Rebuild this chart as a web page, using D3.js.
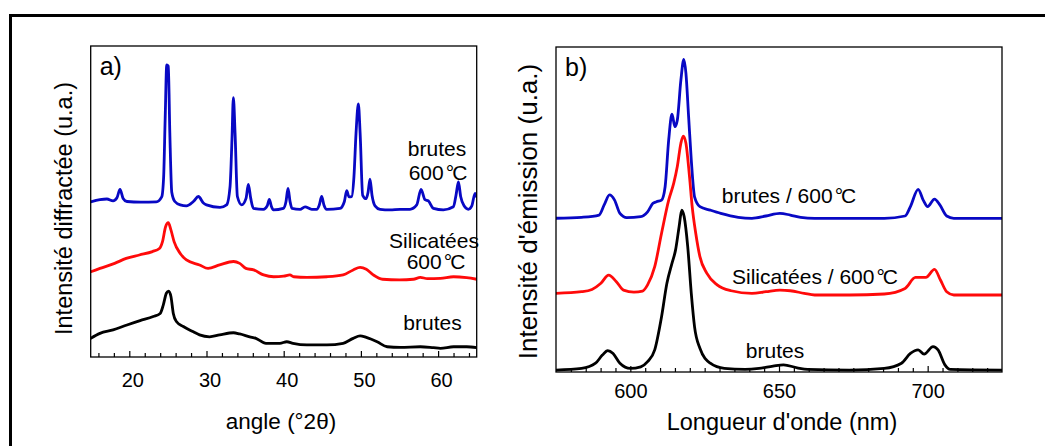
<!DOCTYPE html>
<html>
<head>
<meta charset="utf-8">
<script src="https://cdn.jsdelivr.net/npm/d3@7"></script>
<style>
  html, body { margin: 0; padding: 0; background: #fff; }
  svg { display: block; }
  text { font-family: "Liberation Sans", Arial, Helvetica, sans-serif; fill: #000; }
</style>
</head>
<body>
<svg id="chart" width="1045" height="446"></svg>
<script>
// ---------- Panel a: XRD (angle °2θ vs intensity, arbitrary units) ----------
const xrdTicksMajor = [20, 30, 40, 50, 60];
const xrdTicksMinor = [16, 18, 22, 24, 26, 28, 32, 34, 36, 38, 42, 44, 46, 48, 52, 54, 56, 58, 62, 64];
const xrdBrutes600 = [[15.0,49.9],[16.2,50.6],[17.1,50.8],[17.9,50.2],[18.4,51.2],[18.8,53.9],[19.2,51.0],[19.7,50.0],[21.5,49.8],[23.5,49.9],[24.2,51.5],[24.45,58],[24.65,77],[24.85,93.9],[25.05,93.5],[25.25,72],[25.5,53],[25.9,50.0],[26.6,48.9],[27.4,48.6],[28.3,50.0],[28.95,51.6],[29.6,49.5],[30.0,48.9],[31.75,48.1],[32.6,48.9],[33.05,54.8],[33.3,70],[33.48,83.4],[33.7,72],[34.0,51.6],[34.56,48.9],[35.12,51],[35.42,55.5],[35.73,51],[36.07,47.8],[37.37,47.5],[37.88,48.7],[38.14,50.7],[38.4,48.5],[38.66,47.3],[39.96,47.8],[40.3,50],[40.56,54.2],[40.82,50],[41.08,47.8],[42.12,47.5],[42.76,48.3],[43.63,47.5],[44.27,47.5],[44.6,48.8],[44.92,51.6],[45.22,48.8],[45.57,47.5],[47.3,47.8],[47.86,50],[48.16,53.5],[48.46,51.5],[48.8,51.6],[49.1,58],[49.37,72],[49.67,81.4],[49.9,72],[50.23,52],[50.67,50.9],[50.93,53],[51.18,57.2],[51.44,52],[51.83,48.6],[52.48,47.5],[53.77,47.3],[55.07,47.5],[56.36,47.5],[57.23,48.9],[57.79,53.9],[58.3,50.6],[58.74,50.2],[59.39,47.8],[60.68,47.3],[61.98,48.3],[62.32,52],[62.63,56.3],[62.93,51.5],[63.36,48.6],[63.92,47.5],[64.35,48.5],[64.79,52.6],[65.0,51.5]];
const xrdSilic600 = [[15.0,27.4],[16.2,28.5],[18.1,30.1],[19.6,31.7],[21.3,32.8],[23.0,33.9],[23.9,34.9],[24.3,37.1],[24.7,41.9],[25.05,43.2],[25.4,40.8],[25.8,37.1],[26.6,33.3],[27.4,31.2],[29.1,29.6],[30.2,28.5],[31.7,29.6],[33.5,30.7],[34.3,30.1],[35.1,28.5],[36.1,28.0],[37.4,26.4],[38.7,25.8],[40.0,26.0],[40.8,26.4],[41.3,25.8],[43.0,25.6],[45.6,25.8],[47.7,26.4],[49.0,28.0],[49.9,28.8],[50.7,28.2],[51.6,26.4],[52.8,25.0],[55.0,24.8],[56.8,25.0],[57.7,25.6],[58.6,25.2],[60.3,25.3],[62.0,25.8],[63.7,25.5],[65.0,25.0]];
const xrdBrutes = [[15.0,6.0],[16.2,7.6],[17.9,8.7],[19.7,10.3],[21.4,11.7],[23.1,13.0],[24.0,14.0],[24.4,16.7],[24.8,20.5],[25.1,21.2],[25.4,19.4],[25.7,14.0],[26.1,11.4],[27.0,9.8],[28.3,8.1],[29.1,7.1],[30.4,6.5],[31.7,7.1],[33.5,7.8],[34.3,7.4],[35.6,6.5],[36.4,6.0],[37.7,4.4],[39.5,4.4],[40.4,4.9],[41.2,4.4],[43.0,3.9],[45.6,3.9],[47.7,4.4],[49.0,6.0],[49.9,6.8],[50.7,6.3],[52.1,4.9],[53.4,3.3],[55.1,3.1],[57.7,3.3],[59.4,3.0],[60.3,2.8],[62.0,3.3],[63.7,3.3],[65.0,3.0]];

// ---------- Panel b: emission (wavelength nm vs intensity, arbitrary units) ----------
const emTicksMajor = [600, 650, 700];
const emTicksMinor = [580, 585, 590, 595, 605, 610, 615, 620, 625, 630, 635, 640, 645, 655, 660, 665, 670, 675, 680, 685, 690, 695, 705, 710, 715, 720];
const emBrutes600 = [[575,47.3],[583.6,47.6],[589.5,48.3],[591.2,51.4],[593.0,54.5],[594.7,52.9],[596.5,48.8],[598.8,47.5],[603.5,47.8],[605.8,49.3],[607.6,51.9],[608.8,52.4],[610.5,52.9],[611.7,57.0],[612.9,71.4],[614.0,79.3],[615.0,75.5],[615.8,77.5],[617.0,89.8],[618.0,96.2],[618.7,91.9],[619.6,78.6],[620.5,65.2],[621.6,53.9],[623.4,50.9],[626.9,49.8],[630.4,48.8],[636.3,47.6],[640.9,47.3],[645.6,48.0],[650.3,48.8],[653.8,48.3],[657.3,47.6],[662.0,47.3],[673.7,47.3],[685.4,47.3],[692.4,48.0],[694.2,50.9],[696.8,56.2],[698.5,52.9],[700.0,50.9],[702.3,53.2],[704.1,51.4],[706.4,48.0],[708.8,47.3],[725,47.3]];
const emSilic600 = [[575,24.2],[583.6,24.7],[587.1,25.4],[590.1,27.3],[592.7,29.8],[595.3,27.8],[597.7,25.2],[601.2,24.6],[604.1,24.9],[605.8,26.8],[608.2,32.4],[610.5,42.7],[612.9,52.9],[614.6,58.1],[615.8,63.2],[617.0,70.4],[617.8,72.6],[618.7,70.4],[619.9,60.1],[620.8,50.9],[622.0,42.7],[623.4,35.5],[625.7,30.4],[629.2,26.8],[633.9,25.0],[640.9,24.2],[645.6,24.7],[650.3,25.2],[653.8,25.0],[658.5,24.2],[662.0,23.7],[673.7,23.7],[685.4,24.0],[692.4,25.7],[695.9,29.1],[699.4,29.1],[702.3,31.6],[704.3,28.3],[706.4,24.7],[708.8,23.7],[725,23.7]];
const emBrutes = [[575,0.6],[583.6,1.1],[588.3,2.7],[590.6,5.2],[592.4,6.6],[594.2,5.7],[596.5,2.7],[600,1.1],[603.5,1.6],[605.8,3.2],[608.2,6.8],[610.5,17.0],[612.3,27.3],[614.0,33.4],[615.2,37.5],[616.4,44.7],[617.3,49.8],[618.1,47.8],[619.3,38.6],[620.5,24.2],[621.6,13.9],[623.4,7.3],[626.9,2.7],[631.6,1.1],[638.6,0.8],[643.3,1.1],[648.0,1.8],[651.5,2.2],[656.1,1.3],[659.6,0.8],[673.7,0.6],[685.4,1.1],[691.2,2.7],[694.2,5.7],[696.8,6.8],[698.8,5.5],[701.8,7.8],[703.5,6.8],[705.8,2.2],[707.6,0.8],[725,0.6]];

const BLUE = "#0808c4", RED = "#ff0a0a", BLACK = "#000";

const svg = d3.select("#chart");

// outer frame (top + left only)
svg.append("path").attr("d", "M10.5,446 V15.5 H1045")
  .attr("fill", "none").attr("stroke", "#000").attr("stroke-width", 3);

function panel(opts) {
  const x = d3.scaleLinear(opts.xDomain, [opts.left, opts.right]);
  const y = d3.scaleLinear([0, 100], [opts.bottom, opts.top]);
  const g = svg.append("g");

  const clipId = "clip-" + opts.name;
  svg.append("clipPath").attr("id", clipId).append("rect")
    .attr("x", opts.left).attr("y", opts.top)
    .attr("width", opts.right - opts.left).attr("height", opts.bottom - opts.top);
  const line = d3.line().x(d => x(d[0])).y(d => y(d[1])).curve(d3.curveMonotoneX);
  const cg = g.append("g").attr("clip-path", `url(#${clipId})`);
  opts.series.forEach(s => {
    cg.append("path").datum(s.data).attr("d", line)
      .attr("fill", "none").attr("stroke", s.color).attr("stroke-width", 2.8)
      .attr("stroke-linejoin", "round").attr("stroke-linecap", "round");
  });

  // minor ticks
  g.append("g").attr("transform", `translate(0,${opts.bottom})`)
    .call(d3.axisBottom(x).tickValues(opts.minor).tickSize(-4).tickFormat(""))
    .call(a => a.select(".domain").remove())
    .call(a => a.selectAll("line").attr("stroke-width", 1.2));
  // major ticks with labels
  const ax = g.append("g").attr("transform", `translate(0,${opts.bottom})`)
    .call(d3.axisBottom(x).tickValues(opts.major).tickSize(-6).tickPadding(opts.pad).tickFormat(d3.format("d")))
    .call(a => a.select(".domain").remove())
    .call(a => a.selectAll("line").attr("stroke-width", 1.2));
  ax.selectAll("text").attr("font-size", 20).attr("fill", "#000")
    .attr("dx", opts.labelDx)
    .style("font-family", '"Liberation Sans", Arial, sans-serif');

  // box
  g.append("rect").attr("x", opts.left).attr("y", opts.top)
    .attr("width", opts.right - opts.left).attr("height", opts.bottom - opts.top)
    .attr("fill", "none").attr("stroke", "#000").attr("stroke-width", 1.3);

  // axis titles
  g.append("text").attr("x", opts.xTitleX).attr("y", opts.xTitleY)
    .attr("text-anchor", "middle").attr("font-size", opts.xTitleSize).text(opts.xTitle);
  g.append("text")
    .attr("transform", `translate(${opts.yTitleX},${opts.yTitleY}) rotate(-90)`)
    .attr("text-anchor", "middle").attr("font-size", opts.yTitleSize).text(opts.yTitle);
  // panel letter
  g.append("text").attr("x", opts.left + 9).attr("y", opts.letterY)
    .attr("font-size", 25).text(opts.letter);

  // curve labels
  opts.labels.forEach(l => {
    const t = g.append("text").attr("x", l.x).attr("y", l.y)
      .attr("text-anchor", "middle").attr("font-size", 21);
    t.append("tspan").text(l.pre);
    if (l.deg) {
      t.append("tspan").attr("dx", 2).text("°");
      t.append("tspan").attr("dx", -2).text("C");
    }
  });
}

panel({
  name: "a", letter: "a)", letterY: 75,
  xDomain: [15, 65], left: 90.7, right: 476.7, top: 46, bottom: 357,
  major: xrdTicksMajor, minor: xrdTicksMinor, pad: 16, labelDx: 3,
  series: [
    { data: xrdBrutes600, color: BLUE },
    { data: xrdSilic600, color: RED },
    { data: xrdBrutes, color: BLACK }
  ],
  xTitle: "angle (°2θ)", xTitleX: 281, xTitleY: 429, xTitleSize: 22.5,
  yTitle: "Intensité diffractée (u.a.)", yTitleX: 71.5, yTitleY: 208.5, yTitleSize: 23.5,
  labels: [
    { x: 437, y: 156, pre: "brutes" },
    { x: 438, y: 180, pre: "600", deg: true },
    { x: 434, y: 248, pre: "Silicatées" },
    { x: 436, y: 269, pre: "600", deg: true },
    { x: 432.5, y: 330, pre: "brutes" }
  ]
});

panel({
  name: "b", letter: "b)", letterY: 76,
  xDomain: [575, 725], left: 556, right: 1002, top: 47, bottom: 372,
  major: emTicksMajor, minor: emTicksMinor, pad: 12, labelDx: 0,
  series: [
    { data: emBrutes600, color: BLUE },
    { data: emSilic600, color: RED },
    { data: emBrutes, color: BLACK }
  ],
  xTitle: "Longueur d'onde (nm)", xTitleX: 782, xTitleY: 430, xTitleSize: 23.5,
  yTitle: "Intensité d'émission (u.a.)", yTitleX: 536.5, yTitleY: 211.5, yTitleSize: 26,
  labels: [
    { x: 789, y: 203, pre: "brutes / 600", deg: true },
    { x: 815, y: 284, pre: "Silicatées / 600", deg: true },
    { x: 775, y: 358, pre: "brutes" }
  ]
});
</script>
</body>
</html>
